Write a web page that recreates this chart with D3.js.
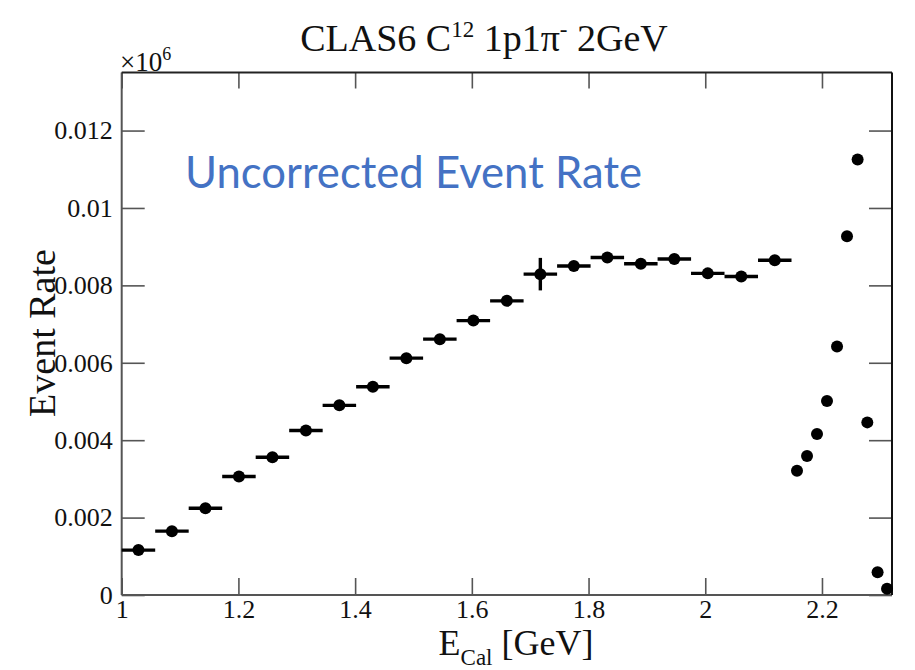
<!DOCTYPE html>
<html>
<head>
<meta charset="utf-8">
<script src="https://cdn.jsdelivr.net/npm/d3@7"></script>
<style>
  html, body { margin: 0; padding: 0; background: #fff; }
  svg { display: block; }
  .serif { font-family: "Liberation Serif", "Times New Roman", serif; }
</style>
</head>
<body>
<svg id="chart" width="915" height="670"></svg>
<script>
// Binned event rate (centres in GeV, rates in units of 10^6)
const binCenters = [1.0287, 1.0861, 1.1435, 1.2009, 1.2583, 1.3157, 1.3730, 1.4304, 1.4878, 1.5452,
                    1.6026, 1.6600, 1.7174, 1.7748, 1.8322, 1.8896, 1.9470, 2.0043, 2.0617, 2.1191];
const binRates   = [0.00116, 0.00165, 0.00224, 0.00306, 0.00356, 0.00425, 0.00490, 0.00538, 0.00612, 0.00661,
                    0.00709, 0.00760, 0.00829, 0.00850, 0.00872, 0.00856, 0.00868, 0.00831, 0.00823, 0.00865];
const binErrors  = [0.00004, 0.00005, 0.00006, 0.00007, 0.00008, 0.00009, 0.00010, 0.00010, 0.00011, 0.00011,
                    0.00012, 0.00012, 0.00042, 0.00012, 0.00013, 0.00013, 0.00013, 0.00013, 0.00013, 0.00013];
const binHalfWidth = 0.0287;

// Quasi-elastic peak region, unbinned points
const peakE     = [2.1572, 2.1744, 2.1915, 2.2086, 2.2258, 2.2429, 2.2611, 2.2777, 2.2953, 2.3115];
const peakRates = [0.00321, 0.00359, 0.00416, 0.00501, 0.00642, 0.00927, 0.01125, 0.00446, 0.00059, 0.00016];

const xTicks = [1, 1.2, 1.4, 1.6, 1.8, 2, 2.2];
const xTickLabels = ["1", "1.2", "1.4", "1.6", "1.8", "2", "2.2"];
const yTicks = [0, 0.002, 0.004, 0.006, 0.008, 0.01, 0.012];
const yTickLabels = ["0", "0.002", "0.004", "0.006", "0.008", "0.01", "0.012"];

const xDomain = [1, 2.32];
const yDomain = [0, 0.0135];

const frame = { left: 121.7, right: 892, top: 72.5, bottom: 595 };
const svg = d3.select("#chart");

const x = d3.scaleLinear().domain(xDomain).range([frame.left, frame.right]);
const y = d3.scaleLinear().domain(yDomain).range([frame.bottom, frame.top]);

// Axes: labelled bottom/left, tick-only top/right
const bottomAxis = d3.axisBottom(x).tickValues(xTicks)
  .tickFormat((d, i) => xTickLabels[i]).tickSizeInner(-17).tickSizeOuter(0).tickPadding(5);
const leftAxis = d3.axisLeft(y).tickValues(yTicks)
  .tickFormat((d, i) => yTickLabels[i]).tickSizeInner(-23).tickSizeOuter(0).tickPadding(9);
const topAxis = d3.axisTop(x).tickValues(xTicks).tickFormat("").tickSizeInner(-16).tickSizeOuter(0);
const rightAxis = d3.axisRight(y).tickValues(yTicks).tickFormat("").tickSizeInner(-23).tickSizeOuter(0);

function styleAxis(g) {
  g.select(".domain").remove();
  g.selectAll(".tick line").attr("stroke", "#555").attr("stroke-width", 1.6);
  g.selectAll(".tick text")
    .attr("class", "serif").attr("fill", "#111").style("font-size", "26px");
}

svg.append("g").attr("transform", `translate(0,${frame.bottom})`).call(bottomAxis).call(styleAxis);
svg.append("g").attr("transform", `translate(${frame.left},0)`).call(leftAxis).call(styleAxis);
svg.append("g").attr("transform", `translate(0,${frame.top})`).call(topAxis).call(styleAxis);
svg.append("g").attr("transform", `translate(${frame.right},0)`).call(rightAxis).call(styleAxis);

// Frame
svg.append("line").attr("x1", frame.left).attr("x2", frame.right).attr("y1", frame.bottom).attr("y2", frame.bottom)
  .attr("stroke", "#555").attr("stroke-width", 2);
svg.append("line").attr("x1", frame.left).attr("x2", frame.left).attr("y1", frame.top).attr("y2", frame.bottom)
  .attr("stroke", "#555").attr("stroke-width", 2);
svg.append("line").attr("x1", frame.left).attr("x2", frame.right).attr("y1", frame.top).attr("y2", frame.top)
  .attr("stroke", "#222").attr("stroke-width", 2);
svg.append("line").attr("x1", frame.right).attr("x2", frame.right).attr("y1", frame.top).attr("y2", frame.bottom)
  .attr("stroke", "#111").attr("stroke-width", 2);

// Binned points with error bars
const bins = binCenters.map((c, i) => ({ c, v: binRates[i], e: binErrors[i] }));
const gBins = svg.append("g");
gBins.selectAll("line.h").data(bins).join("line").attr("class", "h")
  .attr("x1", d => x(d.c - binHalfWidth)).attr("x2", d => x(d.c + binHalfWidth))
  .attr("y1", d => y(d.v)).attr("y2", d => y(d.v))
  .attr("stroke", "#000").attr("stroke-width", 3.4);
gBins.selectAll("line.v").data(bins).join("line").attr("class", "v")
  .attr("x1", d => x(d.c)).attr("x2", d => x(d.c))
  .attr("y1", d => y(d.v - d.e)).attr("y2", d => y(d.v + d.e))
  .attr("stroke", "#000").attr("stroke-width", 3.4);
gBins.selectAll("circle").data(bins).join("circle")
  .attr("cx", d => x(d.c)).attr("cy", d => y(d.v)).attr("r", 6).attr("fill", "#000");

// Peak-region points
const peak = peakE.map((e, i) => ({ e, v: peakRates[i] }));
svg.append("g").selectAll("circle").data(peak).join("circle")
  .attr("cx", d => x(d.e)).attr("cy", d => y(d.v)).attr("r", 6).attr("fill", "#000");

// Exponent marker
const expo = svg.append("text").attr("class", "serif").attr("x", 120).attr("y", 71)
  .attr("fill", "#111").style("font-size", "27px");
expo.append("tspan").text("×10");
expo.append("tspan").attr("dy", -11).style("font-size", "18px").text("6");

// Title
const title = svg.append("text").attr("class", "serif").attr("x", 484).attr("y", 51)
  .attr("text-anchor", "middle").attr("fill", "#111").style("font-size", "38px");
title.append("tspan").text("CLAS6 C");
title.append("tspan").attr("dy", -14).style("font-size", "23px").text("12");
title.append("tspan").attr("dy", 14).text(" 1p1π");
title.append("tspan").attr("dy", -14).style("font-size", "23px").text("-");
title.append("tspan").attr("dy", 14).text(" 2GeV");

// Axis titles
const xt = svg.append("text").attr("class", "serif").attr("x", 516).attr("y", 655)
  .attr("text-anchor", "middle").attr("fill", "#111").style("font-size", "36px");
xt.append("tspan").text("E");
xt.append("tspan").attr("dy", 10).style("font-size", "23px").text("Cal");
xt.append("tspan").attr("dy", -10).text(" [GeV]");

svg.append("text").attr("class", "serif")
  .attr("transform", "translate(55,333) rotate(-90)")
  .attr("text-anchor", "middle").attr("fill", "#111").style("font-size", "38px")
  .text("Event Rate");

// Annotation
svg.append("text").attr("x", 185).attr("y", 188)
  .attr("fill", "#4472C4")
  .attr("textLength", 457).attr("lengthAdjust", "spacingAndGlyphs")
  .style("font-family", "Lato, 'Open Sans', sans-serif").style("font-size", "45px")
  .text("Uncorrected Event Rate");
</script>
</body>
</html>
